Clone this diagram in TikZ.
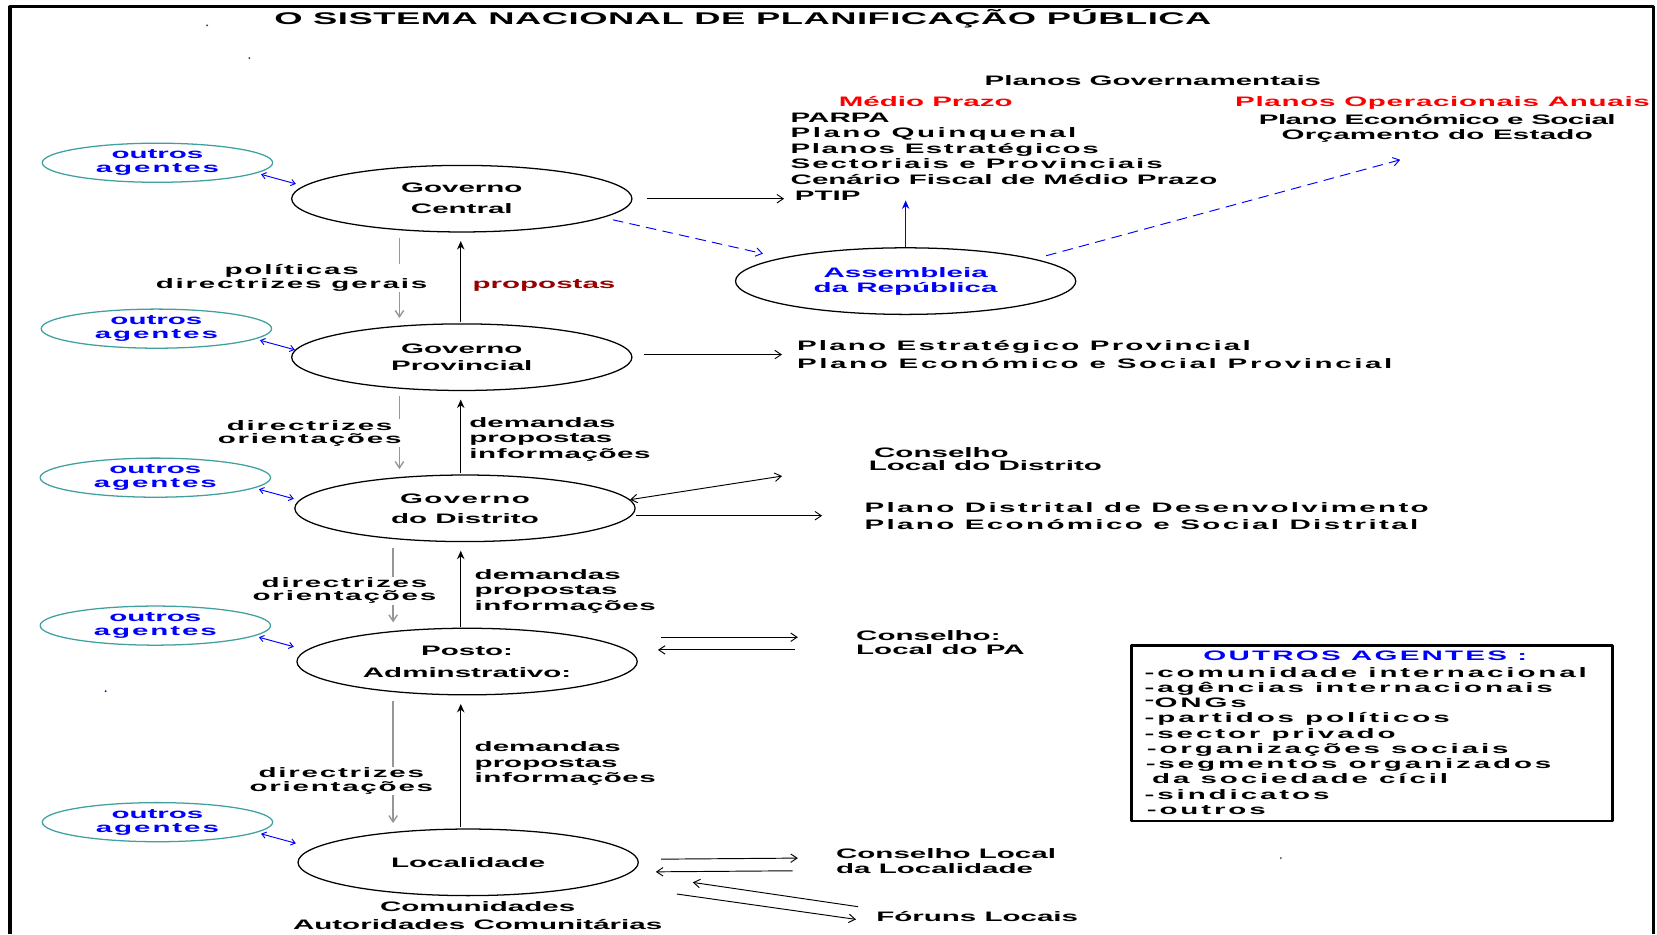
\documentclass[tikz,border=0pt]{standalone}
\usepackage{fontspec}
\newfontfamily\dgfont[FakeStretch=2.15]{Liberation Sans}
\usetikzlibrary{shapes.geometric,arrows.meta,calc}
\definecolor{agteal}{RGB}{64,160,160}
\definecolor{agblue}{RGB}{0,0,255}
\definecolor{agred}{RGB}{255,0,0}
\definecolor{propred}{RGB}{153,0,0}
\definecolor{setagray}{RGB}{150,150,150}
\newcommand\dgsize[2]{\dgfont\bfseries\fontsize{#1}{#2}\selectfont}
\newcommand\dgsp[2]{{\addfontfeature{LetterSpace=#1}#2}}

\begin{document}
\begin{tikzpicture}[x=1pt, y=-1pt, line join=round, font=\dgsize{13}{14.8},
	mainel/.style={ellipse, draw, line width=1.2pt, minimum width=322, minimum height=63, inner sep=0pt, align=center},
	outel/.style={ellipse, draw=agteal, line width=1.2pt, text=agblue, minimum width=218, minimum height=37, inner sep=0pt, align=center, font=\dgsize{13}{13}},
	txt/.style={inner sep=0pt, align=left},
	pfeil/.style={-{Straight Barb[length=6pt,width=8pt]}, line width=.9pt},
	sobe/.style={-{Stealth[length=8pt,width=7pt]}, line width=1.3pt},
	desce/.style={-{Straight Barb[length=6pt,width=8pt]}, setagray, line width=1.3pt},
	duplo/.style={{Straight Barb[length=4pt,width=6pt]}-{Straight Barb[length=4pt,width=6pt]}, agblue, line width=.9pt},
	tracej/.style={-{Straight Barb[length=6pt,width=8pt]}, agblue, dash pattern=on 10pt off 6pt, line width=.9pt},
	rotulo/.style={inner sep=1pt, fill=white, align=center, font=\dgsize{13}{12.5}\addfontfeature{LetterSpace=13}}]
	\useasboundingbox (0,0) rectangle (1568,884);
	\draw[line width=3pt] (9.5,884) -- (9.5,6.5) -- (1565,6.5) -- (1565,884);
	\foreach \p in {(196,24),(236,55),(1212,812)}
	\fill[black!70] \p circle (1);
	\fill[agblue] (100,654) circle (1);

	\node[txt, font=\dgsize{16}{16}\addfontfeature{LetterSpace=3}] (titulo) at (703,18) {O SISTEMA NACIONAL DE PLANIFICAÇÃO PÚBLICA};

	\node[mainel, font=\dgsize{13}{20}] (gc) at (437,188) {Governo\\Central};
	\node[mainel, font=\dgsize{13}{16}] (gp) at (437,338) {Governo\\Provincial};
	\node[mainel, font=\dgsize{13}{19}] (gd) at (440,481) {\dgsp{10}{Governo}\\do Distrito};
	\node[mainel, font=\dgsize{13}{21}] (pa) at (442,626) {Posto:\\Adminstrativo:};
	\node[mainel] (loc) at (443,816) {Localidade};
	\node[mainel, text=agblue, font=\dgsize{13}{14}] (ar) at (857,266) {Assembleia\\da República};

	\foreach \o/\c in {oa1/{(149,154)}, oa2/{(148,311)}, oa3/{(147,452)}, oa4/{(147,592)}, oa5/{(149,778)}}
	{
		\node[outel] (\o) at \c {outros\\\dgsp{14}{agentes}};
		\draw[duplo] ($(\o)+(98,11)$) -- ($(\o)+(131,20)$);
	}

	\foreach \u/\l/\gx in {gc/gp/378, gp/gd/378, gd/pa/372, pa/loc/372}
	{
		\draw[desce] ($(\u.south -| \gx,0)+(0,5)$) -- ($(\l.north -| \gx,0)+(0,-5)$);
		\draw[sobe] ($(\l.north -| 436,0)+(0,-1)$) -- ($(\u.south -| 436,0)+(0,8)$);
	}
	\node[rotulo] (r1) at (276,263) {políticas\\directrizes gerais};
	\node[rotulo] (r2) at (293,410) {directrizes\\orientações};
	\node[rotulo] (r3) at (326,559) {directrizes\\orientações};
	\node[rotulo] (r4) at (323,739) {directrizes\\orientações};
	\node[txt, text=propred, anchor=west] (prop) at (447,270) {propostas};
	\node[txt, anchor=west] (d1) at (444,415.5) {demandas\\propostas\\\dgsp{4}{informações}};
	\node[txt, anchor=west] (d2) at (449,559.5) {demandas\\propostas\\\dgsp{4}{informações}};
	\node[txt, anchor=west] (d3) at (449,722.5) {demandas\\propostas\\\dgsp{4}{informações}};

	\node[txt] (plgov) at (1091,76) {Planos Governamentais};
	\node[txt, text=agred] (medtit) at (876,96) {Médio Prazo};
	\node[txt, anchor=west] (medio) at (748,148) {PARPA\\\dgsp{18}{Plano Quinquenal}\\\dgsp{11}{Planos Estratégicos}\\\dgsp{14}{Sectoriais e Provinciais}\\Cenário Fiscal de Médio Prazo\\\hspace{4pt}PTIP};
	\node[txt, text=agred] (optit) at (1365,97) {\dgsp{5}{Planos Operacionais Anuais}};
	\node[txt, align=center] (opano) at (1360,121.5) {\dgsp{-4}{Plano Económico e Social}\\\dgsp{2}{Orçamento do Estado}};

	\node[txt, anchor=west, font=\dgsize{13}{17}] (plprov) at (754,335.5) {\dgsp{16}{Plano Estratégico Provincial}\\\dgsp{19}{Plano Económico e Social Provincial}};
	\node[txt, anchor=west, font=\dgsize{13}{13}] (cld) at (822,434.5) {\hspace{5pt}Conselho\\Local do Distrito};
	\node[txt, anchor=west, font=\dgsize{13}{16}] (pldist) at (818,488) {\dgsp{17}{Plano Distrital de Desenvolvimento}\\\dgsp{17}{Plano Económico e Social Distrital}};
	\node[txt, anchor=west, font=\dgsize{13}{14}] (clpa) at (810,608) {Conselho:\\Local do PA};
	\node[txt, anchor=west, font=\dgsize{13}{14}] (clloc) at (791,815) {Conselho Local\\da Localidade};
	\node[txt, anchor=west] (foruns) at (829,867) {Fóruns Locais};
	\node[txt, align=center, font=\dgsize{13}{17}] (comun) at (452,866.5) {Comunidades\\Autoridades Comunitárias};

	\draw[pfeil] ($(gc.east)+(14,0)$) -- ($(medio.west |- gc.east)+(-6,0)$);
	\draw[tracej] ($(gc)+(143,20)$) -- ($(ar)+(-135,-26)$);
	\draw[sobe, agblue] (ar.north) -- (ar.north |- medio.south);
	\draw[tracej] ($(ar)+(133,-24)$) -- ($(opano.south)+(-35,16)$);
	\draw[pfeil] ($(plprov.west -| gp.east)+(11,0)$) -- ($(plprov.west)+(-14,0)$);
	\draw[pfeil, {Straight Barb[length=6pt,width=8pt]}-{Straight Barb[length=6pt,width=8pt]}] (gd.3) -- ($(cld.west)+(-82,16)$);
	\draw[pfeil] (pldist.west -| gd.east) -- ($(pldist.west)+(-40,0)$);
	\draw[pfeil] ($(pa.east)+(22,-23)$) -- ($(clpa.west)+(-55,-5)$);
	\draw[pfeil] ($(clpa.west)+(-58,7)$) -- ($(pa.east)+(19,-11)$);
	\draw[pfeil] ($(loc.east)+(21,-3)$) -- ($(clloc.west)+(-36,-3)$);
	\draw[pfeil] ($(clloc.west)+(-41,9)$) -- ($(loc.east)+(16,9)$);
	\draw[pfeil] ($(foruns.west)+(-17,-9)$) -- ($(loc.east)+(51,19)$);
	\draw[pfeil] ($(loc.east)+(36,30)$) -- ($(foruns.west)+(-19,3)$);

	\node[draw, line width=2.5pt, minimum width=455, minimum height=166, inner sep=0pt] (caixa) at (1298.5,694) {};
	\node[txt, text=agblue, font=\dgsize{13}{13}\addfontfeature{LetterSpace=16}] (oatit) at (1292,621) {OUTROS AGENTES :};
	\node[txt, anchor=west, font=\dgsize{13}{14.44}\addfontfeature{LetterSpace=21}] (lista) at (1083,701) {-comunidade internacional\\-agências internacionais\\\raisebox{3pt}{-}ONGs\\-partidos políticos\\-sector privado\\\hspace{2pt}-organizações sociais\\\hspace{1pt}-segmentos organizados\\\hspace{7pt}da sociedade cícil\\-sindicatos\\\hspace{2pt}-outros};
\end{tikzpicture}
\end{document}
